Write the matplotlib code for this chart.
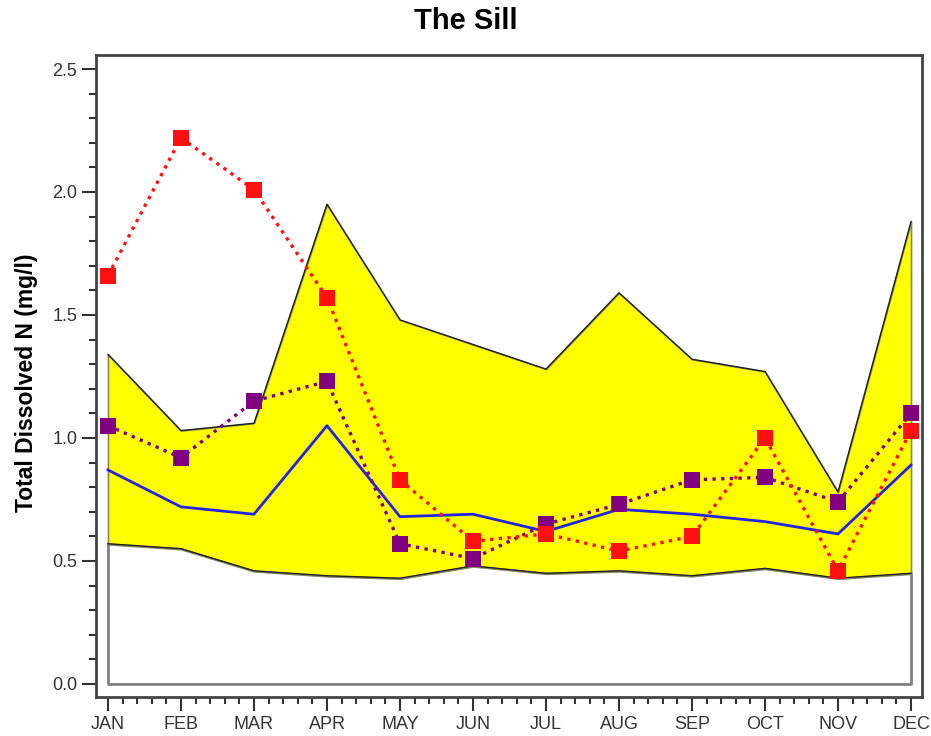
import numpy as np
import matplotlib.pyplot as plt
from matplotlib.ticker import MultipleLocator

plt.rcParams['font.family'] = ['Liberation Sans', 'DejaVu Sans']

months = ['JAN', 'FEB', 'MAR', 'APR', 'MAY', 'JUN', 'JUL', 'AUG', 'SEP', 'OCT', 'NOV', 'DEC']
upper = [1.34, 1.03, 1.06, 1.95, 1.48, 1.38, 1.28, 1.59, 1.32, 1.27, 0.78, 1.88]
lower = [0.57, 0.55, 0.46, 0.44, 0.43, 0.48, 0.45, 0.46, 0.44, 0.47, 0.43, 0.45]
median = [0.87, 0.72, 0.69, 1.05, 0.68, 0.69, 0.62, 0.71, 0.69, 0.66, 0.61, 0.89]
red_series = [1.66, 2.22, 2.01, 1.57, 0.83, 0.58, 0.61, 0.54, 0.60, 1.00, 0.46, 1.03]
purple_series = [1.05, 0.92, 1.15, 1.23, 0.57, 0.51, 0.65, 0.73, 0.83, 0.84, 0.74, 1.10]

x = np.arange(len(months))

fig = plt.figure(figsize=(9.31, 7.36), dpi=100)
ax = fig.add_axes([0.1031, 0.053, 0.8872, 0.8723])

# white area from zero up to the lower bound, grey outline
ax.fill_between(x, 0, lower, facecolor='white', edgecolor='#808080', linewidth=2, zorder=1)
# yellow band between lower and upper
ax.fill_between(x, lower, upper, facecolor='#ffff00', edgecolor='#8a8a50', linewidth=1.2, zorder=1)
ax.plot(x, upper, color='#222222', linewidth=1, zorder=2)
ax.plot(x, lower, color='#222222', linewidth=1, zorder=2)

ax.plot(x, median, color='#2424e0', linewidth=2, zorder=3)
ax.plot(x, purple_series, color='#800080', linestyle=(0, (1, 1.6)), linewidth=2.4,
        marker='s', markersize=11.5, markeredgewidth=0, zorder=4)
ax.plot(x, red_series, color='#ff1010', linestyle=(0, (1, 1.6)), linewidth=2.4,
        marker='s', markersize=11.5, markeredgewidth=0, zorder=5)

ax.set_xlim(-0.164, 11.15)
ax.set_ylim(-0.053, 2.557)
ax.set_xticks(x)
ax.set_xticklabels(months)
ax.xaxis.set_minor_locator(MultipleLocator(0.2))
ax.set_yticks([0.0, 0.5, 1.0, 1.5, 2.0, 2.5])
ax.set_yticklabels(['0.0', '0.5', '1.0', '1.5', '2.0', '2.5'])
ax.yaxis.set_minor_locator(MultipleLocator(0.1))

ax.tick_params(axis='both', which='major', length=10, width=1.5, color='#333333',
               labelsize=13, labelcolor='#333333', pad=3.5)
ax.tick_params(axis='both', which='minor', length=5, width=1.5, color='#333333')
for s in ax.spines.values():
    s.set_color('#444444')
    s.set_linewidth(2)

ax.set_ylabel('Total Dissolved N (mg/l)', fontsize=16.5, fontweight='bold', labelpad=10, y=0.489)
fig.text(0.5, 0.972, 'The Sill', ha='center', va='center', fontsize=21, fontweight='bold')

fig.savefig('out.png', dpi=100)
